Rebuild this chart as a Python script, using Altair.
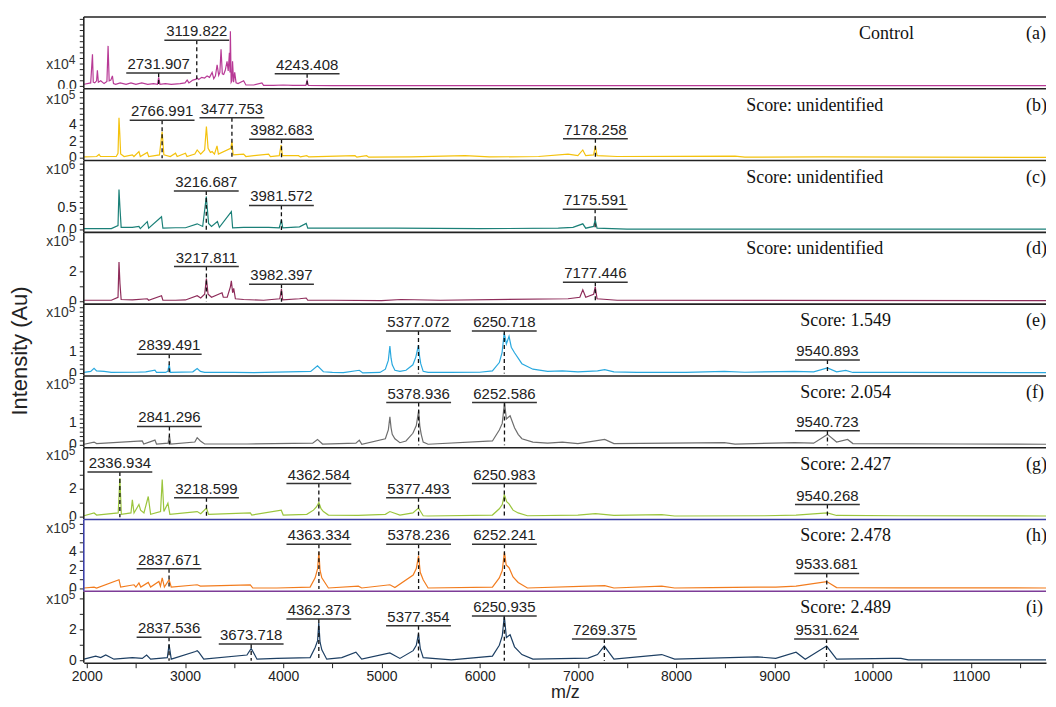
import altair as alt
import pandas as pd

# ---------------- data (m/z, intensity in the panel's axis units) ----------------
SPEC_A = [(1972,0.3),(2040,0.5),(2058,4.6),(2066,0.6),(2081,0.5),(2100,0.8),(2108,2.3),(2118,0.6),(2142,0.8),
          (2176,0.4),(2205,0.7),(2217,5.8),(2228,0.8),(2245,0.9),(2261,1.5),(2272,0.4),(2294,0.3),(2340,0.5),
          (2400,0.3),(2450,0.5),(2500,0.3),(2560,0.5),(2620,0.3),(2680,0.4),(2720,0.3),(2732,1.3),(2745,0.3),
          (2800,0.4),(2860,0.3),(2950,0.4),(3000,0.5),(3022,0.9),(3040,0.5),(3080,0.9),(3107,1.0),(3124,1.2),
          (3140,1.0),(3170,1.3),(3200,1.2),(3225,1.5),(3250,1.3),(3276,2.0),(3293,1.1),(3310,1.5),(3327,3.1),
          (3343,1.6),(3355,2.0),(3367,5.3),(3380,1.8),(3394,1.7),(3410,2.3),(3428,3.6),(3440,2.2),(3452,4.8),
          (3458,2.0),(3462,7.9),(3470,0.6),(3478,0.8),(3484,3.6),(3495,0.6),(3506,2.0),(3520,0.5),(3540,0.4),
          (3597,0.8),(3620,0.2),(3700,0.2),(3783,0.5),(3800,0.15),(3900,0.15),(4000,0.2),(4100,0.15),(4230,0.15),
          (4243,0.8),(4256,0.15),(4500,0.1),(5500,0.1),(7000,0.1),(9000,0.1),(11766,0.1)]
SPEC_B = [(1972,0.15),(2100,0.2),(2125,0.45),(2140,0.2),(2300,0.2),(2318,0.6),(2328,4.9),(2336,3.0),(2345,0.5),
          (2380,0.2),(2464,0.4),(2480,0.2),(2531,0.8),(2545,0.2),(2616,0.7),(2630,0.2),(2740,0.4),(2767,3.2),
          (2785,0.4),(2850,0.2),(2904,0.6),(2920,0.2),(3005,0.6),(3020,0.2),(3100,0.5),(3124,1.0),(3160,0.5),
          (3200,1.0),(3218,3.85),(3235,1.2),(3259,0.7),(3276,0.8),(3300,0.5),(3326,1.5),(3340,0.5),(3465,1.2),
          (3478,2.0),(3490,0.4),(3597,0.5),(3620,0.2),(3851,0.5),(3870,0.2),(3960,0.3),(3978,1.6),(3992,0.3),
          (4156,0.3),(4175,0.15),(4240,0.3),(4260,0.15),(4731,0.3),(4750,0.12),(4849,0.3),(4870,0.12),(5300,0.15),
          (5850,0.3),(5950,0.25),(6100,0.15),(6600,0.2),(6900,0.5),(7000,0.3),(7050,1.0),(7080,0.3),(7160,0.4),
          (7178,1.5),(7195,0.3),(7400,0.2),(8600,0.25),(8700,0.12),(9500,0.15),(11766,0.1)]
SPEC_C = [(1972,0.03),(2250,0.03),(2318,0.1),(2328,0.92),(2338,0.5),(2350,0.06),(2464,0.06),(2531,0.08),(2545,0.03),
          (2616,0.19),(2630,0.04),(2761,0.3),(2775,0.04),(2904,0.05),(3005,0.05),(3124,0.14),(3180,0.08),(3217,0.76),
          (3240,0.15),(3270,0.08),(3330,0.19),(3350,0.06),(3472,0.42),(3485,0.05),(3597,0.06),(3851,0.06),(3960,0.05),
          (3982,0.23),(3995,0.05),(4166,0.07),(4234,0.15),(4250,0.04),(4731,0.04),(5137,0.04),(6000,0.03),(6800,0.04),
          (6950,0.06),(7050,0.14),(7080,0.04),(7160,0.08),(7176,0.23),(7195,0.04),(7500,0.02),(9500,0.02),(11766,0.02)]
SPEC_D = [(1972,0.1),(2250,0.1),(2318,0.3),(2328,2.65),(2338,1.2),(2350,0.15),(2465,0.12),(2616,0.2),(2630,0.1),
          (2761,0.4),(2775,0.1),(2904,0.1),(3005,0.12),(3124,0.4),(3160,0.25),(3200,0.5),(3218,1.55),(3235,0.5),
          (3270,0.3),(3377,0.6),(3390,0.3),(3430,0.3),(3462,1.0),(3472,1.4),(3485,0.6),(3496,0.9),(3513,0.2),
          (3597,0.15),(3800,0.1),(3965,0.2),(3982,0.85),(3995,0.12),(4166,0.2),(4234,0.25),(4250,0.1),(4500,0.1),
          (5000,0.08),(5200,0.15),(5600,0.1),(6900,0.2),(7020,0.3),(7050,0.8),(7080,0.3),(7160,0.5),(7177,1.0),
          (7195,0.2),(7400,0.1),(11766,0.08)]
SPEC_E = [(1972,0.05),(2040,0.1),(2074,0.24),(2100,0.12),(2176,0.1),(2250,0.05),(2500,0.06),(2600,0.08),(2694,0.15),
          (2710,0.05),(2800,0.05),(2825,0.1),(2839,0.42),(2852,0.05),(3080,0.08),(3124,0.23),(3157,0.1),(3200,0.05),
          (3500,0.05),(3700,0.04),(4280,0.1),(4349,0.35),(4409,0.08),(4500,0.05),(4612,0.04),(4775,0.15),(4810,0.03),
          (4985,0.05),(5040,0.2),(5070,0.6),(5086,1.25),(5098,0.7),(5110,0.4),(5137,0.15),(5188,0.1),(5250,0.15),
          (5320,0.4),(5350,0.75),(5377,1.3),(5388,0.8),(5400,0.45),(5425,0.1),(5475,0.05),(5700,0.05),(6000,0.06),
          (6130,0.12),(6200,0.5),(6228,0.95),(6250,1.85),(6272,1.35),(6299,1.7),(6322,1.2),(6355,0.95),(6430,0.45),
          (6542,0.2),(6692,0.1),(6842,0.12),(7000,0.08),(7200,0.12),(7273,0.18),(7367,0.08),(7600,0.05),(8100,0.05),
          (8491,0.1),(8700,0.06),(9203,0.1),(9400,0.08),(9541,0.26),(9634,0.08),(9727,0.14),(9800,0.05),(10289,0.05),
          (11766,0.04)]
SPEC_F = [(1972,0.05),(2074,0.15),(2100,0.08),(2565,0.2),(2580,0.06),(2694,0.24),(2710,0.06),(2828,0.1),(2841,0.45),
          (2855,0.06),(3100,0.15),(3124,0.35),(3157,0.2),(3200,0.06),(3631,0.06),(4300,0.1),(4349,0.27),(4400,0.06),
          (4740,0.1),(4775,0.24),(4800,0.05),(5040,0.3),(5070,0.7),(5086,1.3),(5098,0.8),(5110,0.5),(5137,0.3),
          (5188,0.12),(5250,0.2),(5320,0.55),(5355,0.9),(5379,1.6),(5390,0.9),(5405,0.5),(5425,0.15),(5475,0.05),
          (6130,0.2),(6200,0.7),(6230,1.0),(6253,1.95),(6272,1.2),(6310,1.35),(6355,0.8),(6392,0.5),(6430,0.3),
          (6542,0.15),(6692,0.1),(6842,0.15),(7000,0.08),(7273,0.27),(7367,0.08),(8491,0.12),(8600,0.06),(9203,0.12),
          (9400,0.1),(9541,0.5),(9634,0.15),(9746,0.27),(9800,0.08),(10900,0.06),(11766,0.05)]
SPEC_G = [(1972,0.1),(2074,0.3),(2100,0.15),(2320,0.3),(2337,2.8),(2352,0.2),(2450,0.3),(2464,1.24),(2481,0.3),
          (2531,0.9),(2548,0.5),(2582,0.3),(2626,1.48),(2650,0.2),(2751,0.4),(2768,2.7),(2785,0.4),(2826,1.0),
          (2846,0.2),(3124,0.4),(3160,0.25),(3219,0.65),(3240,0.2),(3665,0.3),(3680,0.15),(3980,0.5),(4000,0.15),
          (4240,0.2),(4308,0.5),(4340,0.75),(4363,1.05),(4385,0.6),(4409,0.4),(4460,0.15),(4765,0.12),(5040,0.2),
          (5086,0.4),(5188,0.15),(5320,0.3),(5377,0.65),(5425,0.1),(5475,0.08),(6130,0.15),(6200,0.6),(6230,0.9),
          (6251,1.6),(6275,1.1),(6299,0.95),(6340,0.5),(6392,0.3),(6486,0.1),(7000,0.15),(7179,0.25),(7367,0.12),
          (7854,0.18),(7985,0.08),(8900,0.1),(9221,0.15),(9540,0.3),(9634,0.12),(10289,0.1),(11766,0.08)]
SPEC_H = [(1972,0.1),(2074,0.2),(2100,0.1),(2328,1.0),(2345,0.2),(2481,0.45),(2500,0.2),(2531,0.65),(2550,0.2),
          (2626,0.7),(2650,0.2),(2734,0.8),(2750,0.3),(2768,1.2),(2790,0.2),(2838,1.0),(2860,0.2),(3124,0.45),
          (3157,0.3),(3665,0.45),(3690,0.1),(3936,0.1),(4274,0.2),(4325,1.2),(4350,2.2),(4363,4.0),(4375,2.0),
          (4393,1.2),(4460,0.1),(4765,0.3),(4799,0.1),(5086,0.45),(5137,0.15),(5323,1.5),(5355,2.2),(5378,3.6),
          (5395,1.8),(5425,1.0),(5475,0.1),(6130,0.2),(6200,1.2),(6230,2.0),(6252,4.0),(6270,2.6),(6299,2.3),
          (6340,1.3),(6392,0.7),(6486,0.1),(7104,0.3),(7273,0.35),(7367,0.1),(7854,0.3),(7985,0.1),(8360,0.15),
          (8828,0.2),(9015,0.2),(9221,0.3),(9534,0.8),(9634,0.15),(10289,0.12),(11766,0.1)]
SPEC_I = [(1972,0.1),(2091,0.3),(2142,0.2),(2193,0.37),(2277,0.1),(2464,0.2),(2565,0.15),(2609,0.37),(2650,0.1),
          (2820,0.2),(2838,1.05),(2860,0.1),(3107,0.6),(3124,0.65),(3140,0.55),(3191,0.1),(3631,0.37),(3674,0.8),
          (3733,0.1),(3936,0.15),(4274,0.2),(4325,0.86),(4350,1.3),(4362,2.45),(4375,1.2),(4393,0.7),(4443,0.1),
          (4596,0.2),(4740,0.55),(4799,0.1),(5086,0.5),(5188,0.15),(5323,0.65),(5355,1.0),(5377,1.75),(5395,0.8),
          (5425,0.2),(5712,0.05),(6130,0.3),(6200,1.0),(6230,1.6),(6251,2.9),(6272,1.5),(6310,1.68),(6355,0.9),
          (6430,0.4),(6542,0.1),(7104,0.17),(7200,0.4),(7269,0.95),(7367,0.1),(7854,0.4),(7985,0.1),(8828,0.25),
          (9015,0.15),(9221,0.55),(9315,0.1),(9532,0.95),(9634,0.1),(10200,0.15),(10289,0.15),(10364,0.05),
          (11766,0.05)]
SPECTRA = [SPEC_A, SPEC_B, SPEC_C, SPEC_D, SPEC_E, SPEC_F, SPEC_G, SPEC_H, SPEC_I]

# annotated peaks (m/z) and the height of their label line (axis units)
ANN_MZ = [
    [2731.907, 3119.822, 4243.408],
    [2766.991, 3477.753, 3982.683, 7178.258],
    [3216.687, 3981.572, 7175.591],
    [3217.811, 3982.397, 7177.446],
    [2839.491, 5377.072, 6250.718, 9540.893],
    [2841.296, 5378.936, 6252.586, 9540.723],
    [2336.934, 3218.599, 4362.584, 5377.493, 6250.983, 9540.268],
    [2837.671, 4363.334, 5378.236, 6252.241, 9533.681],
    [2837.536, 3673.718, 4362.373, 5377.354, 6250.935, 7269.375, 9531.624],
]
ANN_LV = [
    [1.9, 6.6, 1.8],
    [4.6, 4.9, 2.3, 2.35],
    [0.89, 0.56, 0.47],
    [2.35, 1.17, 1.3],
    [0.88, 1.94, 1.94, 0.62],
    [0.86, 1.95, 1.95, 0.67],
    [3.23, 1.39, 2.41, 1.39, 2.41, 0.9],
    [2.2, 4.85, 4.85, 4.85, 1.68],
    [1.52, 1.08, 2.7, 2.27, 2.9, 1.4, 1.4],
]
NOTES = ["Control", "Score: unidentified", "Score: unidentified", "Score: unidentified",
         "Score: 1.549", "Score: 2.054", "Score: 2.427", "Score: 2.478", "Score: 2.489"]
LETTERS = ["(a)", "(b)", "(c)", "(d)", "(e)", "(f)", "(g)", "(h)", "(i)"]
EXPONENTS = ["4", "5", "6", "5", "5", "5", "5", "5", "5"]
Y_LABEL_VALUES = [[0], [0, 2, 4], [0, 0.5], [0, 2], [0, 1], [0, 1], [0, 2], [0, 2, 4], [0, 2]]
Y_LABEL_TEXTS = [["0.0"], ["0", "2", "4"], ["0.0", "0.5"], ["0", "2"], ["0", "1"], ["0", "1"],
                 ["0", "2"], ["0", "2", "4"], ["0", "2"]]
X_TICKS = list(range(2000, 11751, 250))

# ---------------- layout / style ----------------
X_DOMAIN = [1969.5, 11766]
PLOT_W = 965
PANEL_H = 71.6
COLORS = ["#b83a96", "#f4c20d", "#1b8078", "#8e2c5a", "#2aa9df", "#6e6e6e", "#9bc53d", "#f27c1e", "#1d3f63"]
PX_PER_UNIT = [7, 8.25, 44, 15, 22, 22, 14, 9.25, 15.5]
TICK_STEP = [0.8, 2 / 3, 0.125, 1, 0.2, 0.2, 1, 1, 1]
EXP_Y = [48, 11, 9, 10, 9, 9, 8, 10, 9]
NOTE_X = [805, 733, 733, 733, 764, 764, 764, 764, 764]
LETTER_X = 945
TOP_BORDER = ["#222"] * 7 + ["#3b3fa5", "#7d3c98"]
LEFT_BORDER = ["#222"] * 7 + ["#3b3fa5", "#222"]
SANS = "Liberation Sans"
SERIF = "Liberation Serif"


def make_panel(i):
    pxu = PX_PER_UNIT[i]
    lo = -2.0 / pxu
    hi = (PANEL_H - 2.0) / pxu
    xs = alt.Scale(domain=X_DOMAIN, nice=False, zero=False)
    ys = alt.Scale(domain=[lo, hi], nice=False, zero=False)
    step = TICK_STEP[i]
    n = int(hi / step + 1e-9)
    tick_df = pd.DataFrame({"v": [round(k * step, 6) for k in range(n + 1)]})
    lab_df = pd.DataFrame({"v": Y_LABEL_VALUES[i], "t": Y_LABEL_TEXTS[i]})
    last = i == len(SPECTRA) - 1
    if last:
        xaxis = alt.Axis(values=X_TICKS,
                         labelExpr="datum.value % 1000 === 0 ? format(datum.value, 'd') : ''",
                         tickSize=5, labelFontSize=14, labelPadding=2, labelFlush=False,
                         labelOverlap=False, grid=False, domainWidth=1.6, title="m/z",
                         titleFontSize=18, titleFontWeight="normal", titlePadding=0)
        xenc = alt.X("mz:Q", scale=xs, axis=xaxis)
    else:
        xenc = alt.X("mz:Q", scale=xs, axis=None)

    spec_df = pd.DataFrame(SPECTRA[i], columns=["mz", "val"])
    ann_df = pd.DataFrame({"mz": ANN_MZ[i], "lv": ANN_LV[i]})
    ann_df["txt"] = [f"{v:.3f}" for v in ANN_MZ[i]]
    one = pd.DataFrame({"k": [0]})

    layers = []
    layers.append(alt.Chart(spec_df).mark_line(color=COLORS[i], strokeWidth=1.2, clip=True).encode(
        x=xenc, y=alt.Y("val:Q", scale=ys, axis=None)))
    if i > 0:
        # the next panel hides the lower half of the previous panel's "0" label
        layers.append(alt.Chart(one).mark_rect(color="white").encode(
            x=alt.value(-44), x2=alt.value(-6), y=alt.value(0), y2=alt.value(6)))
    # y axis: ticks, labels, left border
    layers.append(alt.Chart(tick_df).mark_rule(color="#222", strokeWidth=1).encode(
        y=alt.Y("v:Q", scale=ys), x=alt.value(-4), x2=alt.value(0)))
    layers.append(alt.Chart(lab_df).mark_text(font=SANS, fontSize=14, align="right", baseline="middle",
                                              color="#222").encode(
        y=alt.Y("v:Q", scale=ys), x=alt.value(-7), text="t:N"))
    layers.append(alt.Chart(one).mark_rule(color=LEFT_BORDER[i], strokeWidth=1.6).encode(
        x=alt.value(0), y=alt.value(0), y2=alt.value(PANEL_H)))
    # peak annotations
    layers.append(alt.Chart(ann_df).mark_rule(color="#111", strokeDash=[4, 3], strokeWidth=1.3).encode(
        x=alt.X("mz:Q", scale=xs), y=alt.Y("lv:Q", scale=ys), y2=alt.datum(0)))
    layers.append(alt.Chart(ann_df).transform_calculate(
        xa="datum.mz - 330", xb="datum.mz + 330").mark_rule(color="#333", strokeWidth=1.5).encode(
        x=alt.X("xa:Q", scale=xs), x2="xb:Q", y=alt.Y("lv:Q", scale=ys)))
    layers.append(alt.Chart(ann_df).mark_text(font=SANS, fontSize=15, baseline="alphabetic", dy=-4,
                                              color="#222").encode(
        x=alt.X("mz:Q", scale=xs), y=alt.Y("lv:Q", scale=ys), text="txt:N"))
    layers.append(alt.Chart(pd.DataFrame({"t": [NOTES[i]]})).mark_text(
        font=SERIF, fontSize=18, align="center", baseline="middle", color="#111").encode(
        x=alt.value(NOTE_X[i]), y=alt.value(17), text="t:N"))
    layers.append(alt.Chart(pd.DataFrame({"t": [LETTERS[i]]})).mark_text(
        font=SERIF, fontSize=18, align="left", baseline="middle", color="#111", clip=True).encode(
        x=alt.value(LETTER_X), y=alt.value(17), text="t:N"))
    layers.append(alt.Chart(one).mark_text(text="x10", font=SANS, fontSize=14, align="right",
                                           baseline="middle", color="#333").encode(
        x=alt.value(-15), y=alt.value(EXP_Y[i])))
    layers.append(alt.Chart(one).mark_text(text=EXPONENTS[i], font=SANS, fontSize=12, align="left",
                                           baseline="middle", dy=-5, color="#333").encode(
        x=alt.value(-15), y=alt.value(EXP_Y[i])))
    layers.append(alt.Chart(one).mark_rule(color=TOP_BORDER[i], strokeWidth=1.6).encode(
        x=alt.value(0), x2=alt.value(PLOT_W), y=alt.value(0)))
    if i == 4:
        layers.append(alt.Chart(one).mark_text(text="Intensity (Au)", font=SANS, fontSize=22, angle=270,
                                               align="center", baseline="middle", color="#222").encode(
            x=alt.value(-64), y=alt.value(47)))
    return alt.layer(*layers).properties(width=PLOT_W, height=PANEL_H)


panels = [make_panel(i) for i in range(len(SPECTRA))]
chart = alt.vconcat(*panels, spacing=0, bounds="flush").properties(
    padding={"left": 0, "top": 6, "right": 0, "bottom": 0}
).configure_view(stroke="transparent").configure_axis(
    labelFont=SANS, titleFont=SANS, labelColor="#222", titleColor="#222",
    tickColor="#222", domainColor="#222"
)

chart.save("out.html", embed_options={"renderer": "svg", "actions": False})
